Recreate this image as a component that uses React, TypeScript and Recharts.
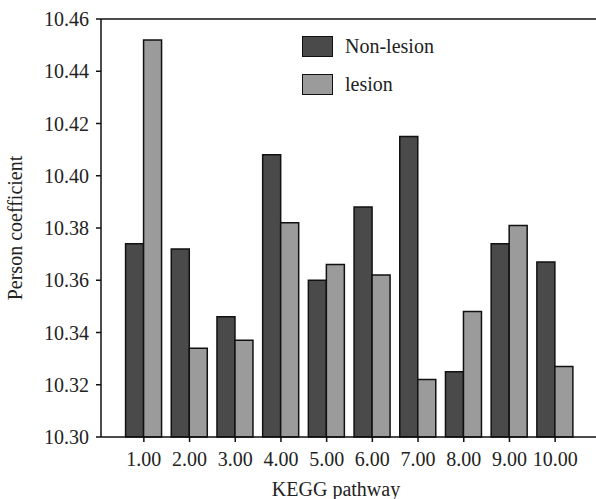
import { BarChart, Bar, XAxis, YAxis, ReferenceLine, Label } from "recharts";

// values
const pathways = ["1.00", "2.00", "3.00", "4.00", "5.00", "6.00", "7.00", "8.00", "9.00", "10.00"];
const nonLesion = [10.374, 10.372, 10.346, 10.408, 10.36, 10.388, 10.415, 10.325, 10.374, 10.367];
const lesion = [10.452, 10.334, 10.337, 10.382, 10.366, 10.362, 10.322, 10.348, 10.381, 10.327];
const yTicks = [10.3, 10.32, 10.34, 10.36, 10.38, 10.4, 10.42, 10.44, 10.46];

const DARK = "#4a4a4a";
const LIGHT = "#9b9b9b";
const FONT = "'Liberation Serif', 'Times New Roman', serif";

const data = pathways.map((p, i) => ({ pathway: p, nonLesion: nonLesion[i], lesion: lesion[i] }));

const legendItems = [
  { name: "Non-lesion", color: DARK },
  { name: "lesion", color: LIGHT },
];

// legend drawn by hand so the boxes match the original
const LegendBox = () => (
  <div style={{ position: "absolute", left: 302, top: 27, fontFamily: FONT, fontSize: 20, color: "#222" }}>
    {legendItems.map((item) => (
      <div key={item.name} style={{ display: "flex", alignItems: "center", height: 38 }}>
        <div
          style={{
            width: 29,
            height: 19,
            background: item.color,
            border: "1.5px solid #111",
            marginRight: 12,
          }}
        />
        <span>{item.name}</span>
      </div>
    ))}
  </div>
);

// custom y tick so the serif font sticks
const YTick = ({ x, y, payload }: any) => (
  <text x={x} y={y} dy="0.35em" textAnchor="end" fontFamily={FONT} fontSize={20} fill="#222">
    {Number(payload.value).toFixed(2)}
  </text>
);

const XTick = ({ x, y, payload }: any) => (
  <text x={x} y={y} dy="0.71em" textAnchor="middle" fontFamily={FONT} fontSize={20} fill="#222">
    {payload.value}
  </text>
);

export default function App() {
  return (
    <div style={{ position: "absolute", left: 0, top: 0, width: 596, height: 499, background: "#fff", fontFamily: FONT }}>
      <BarChart
        width={596}
        height={499}
        data={data}
        margin={{ top: 19, right: 0, bottom: 0, left: 0 }}
        barCategoryGap="10%"
        barGap={0}
      >
        <XAxis
          dataKey="pathway"
          height={62}
          padding={{ left: 20, right: 18 }}
          stroke="#111"
          strokeWidth={1.5}
          tickSize={5}
          tickMargin={10}
          tick={<XTick />}
          interval={0}
        >
          <Label
            content={() => (
              <text x={336} y={496} textAnchor="middle" fontFamily={FONT} fontSize={20} fill="#222">
                KEGG pathway
              </text>
            )}
          />
        </XAxis>
        <YAxis
          width={101}
          domain={[10.3, 10.46]}
          ticks={yTicks}
          stroke="#111"
          strokeWidth={1.5}
          tickSize={5}
          tickMargin={7}
          tick={<YTick />}
        >
          <Label
            content={() => (
              <text
                x={22}
                y={228}
                textAnchor="middle"
                fontFamily={FONT}
                fontSize={20}
                fill="#222"
                transform="rotate(-90 22 228)"
              >
                Person coefficient
              </text>
            )}
          />
        </YAxis>
        <ReferenceLine y={10.46} stroke="#111" strokeWidth={1.5} />
        <Bar dataKey="nonLesion" name="Non-lesion" fill={DARK} stroke="#111" strokeWidth={1.5} isAnimationActive={false} />
        <Bar dataKey="lesion" name="lesion" fill={LIGHT} stroke="#111" strokeWidth={1.5} isAnimationActive={false} />
      </BarChart>
      <LegendBox />
    </div>
  );
}
